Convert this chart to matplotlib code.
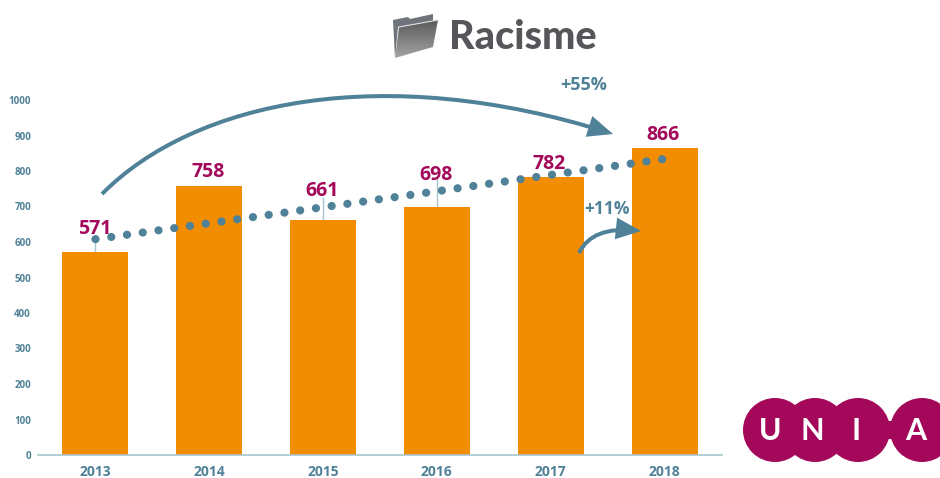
"""Racisme dossiers per year, bars with dotted trend and UNIA logo."""

import matplotlib
matplotlib.use("Agg")
import matplotlib.pyplot as plt
import numpy as np
from matplotlib.patches import Circle, FancyArrowPatch, PathPatch, Polygon, Rectangle
from matplotlib.path import Path

years = ["2013", "2014", "2015", "2016", "2017", "2018"]
cases = [571, 758, 661, 698, 782, 866]
trend = [608, 653, 698, 743, 789, 834]
yticks = [0, 100, 200, 300, 400, 500, 600, 700, 800, 900, 1000]

W, H = 940, 478
ORANGE = "#F28C00"
MAGENTA = "#A3085A"
STEEL = "#4F8198"
AXIS = "#A9C4D1"
TITLE = "#55565A"
FONT = "Open Sans"


def px_axes(fig, left, top, right, bottom):
    """Axes placed by pixel box (y measured from the top of the image)."""
    return fig.add_axes([left / W, 1 - bottom / H, (right - left) / W, (bottom - top) / H])


def curved_arrow(ax, verts, codes, lw):
    ax.add_patch(FancyArrowPatch(
        path=Path(verts, codes),
        arrowstyle="-|>,head_length=13,head_width=5.6", mutation_scale=1,
        color=STEEL, linewidth=lw, capstyle="butt", joinstyle="miter",
        shrinkA=0, shrinkB=0, zorder=6,
    ))


def draw_folder(ax):
    back = Polygon([(393, 20), (408, 17), (410, 19), (433, 14), (433, 21),
                    (398, 27), (395, 58)], closed=True, facecolor="#6E7479",
                   edgecolor="none", zorder=2)
    ax.add_patch(back)
    front = PathPatch(Path([(399, 27), (438, 20), (433, 47), (395, 58), (399, 27)]),
                      facecolor="none", edgecolor="none", zorder=3)
    ax.add_patch(front)
    grad = np.linspace(0, 1, 64).reshape(-1, 1)
    im = ax.imshow(grad, extent=(393, 440, 19, 59), cmap="gray_r", vmin=-1.2, vmax=2.2,
                   aspect="auto", zorder=3)
    im.set_clip_path(front)
    ax.plot([399, 438], [27, 20], color="#DDE1E4", lw=0.8, zorder=4)


def draw_logo(ax):
    for cx in [775, 815, 858, 922]:
        ax.add_patch(Circle((cx, 430), 32, facecolor=MAGENTA, edgecolor="none", zorder=2))
    ax.add_patch(Rectangle((880, 421), 20, 18, facecolor=MAGENTA, edgecolor="none", zorder=2))
    for cx, letter in zip([770, 812, 856, 916], "UNIA"):
        ax.text(cx, 431, letter, color="white", fontsize=22, fontweight="bold",
                family="Lato", ha="center", va="center", zorder=3)


def main():
    fig = plt.figure(figsize=(W / 100, H / 100), dpi=100, facecolor="white")

    ax = px_axes(fig, 38, 100, 722, 455)
    x = np.arange(len(years))
    ax.bar(x, cases, width=0.58, color=ORANGE, zorder=2)
    ax.plot(x, trend, linestyle=(0, (0.01, 1.93)), dash_capstyle="round", linewidth=5.9,
            color=STEEL, zorder=4)
    ax.set_xlim(-0.505, 5.505)
    ax.set_ylim(0, 1000)
    ax.set_xticks(x, years)
    ax.set_yticks(yticks)
    ax.tick_params(length=0)
    ax.tick_params(axis="x", pad=7.4, labelsize=10)
    ax.tick_params(axis="y", pad=5, labelsize=7)
    for lab in ax.get_xticklabels() + ax.get_yticklabels():
        lab.set_fontfamily(FONT)
        lab.set_fontweight("bold")
        lab.set_color(STEEL)
    for side in ["top", "right", "left"]:
        ax.spines[side].set_visible(False)
    ax.spines["bottom"].set_color(AXIS)
    ax.spines["bottom"].set_linewidth(1.2)
    ax.patch.set_alpha(0)

    label_y = [637, 796, 743, 790, 819, 900]
    for xi, val, ly in zip(x, cases, label_y):
        ax.text(xi - 0.01, ly, str(val), color=MAGENTA, fontsize=14, fontweight="bold",
                family=FONT, ha="center", va="center", zorder=5)
    # thin leaders from the labels down to the bars
    for i, top in [(0, 605), (2, 725), (3, 780)]:
        ax.plot([i, i], [cases[i], top], color=AXIS, lw=1, zorder=1)

    over = fig.add_axes([0, 0, 1, 1])
    over.set_xlim(0, W)
    over.set_ylim(H, 0)
    over.axis("off")
    over.patch.set_alpha(0)

    curved_arrow(over, [(102, 194), (195, 100), (385, 62), (613, 134)],
                 [Path.MOVETO, Path.CURVE4, Path.CURVE4, Path.CURVE4], 2.9)
    curved_arrow(over, [(579, 253), (592, 226), (641, 231)],
                 [Path.MOVETO, Path.CURVE3, Path.CURVE3], 2.9)
    over.text(584, 85, "+55%", color=STEEL, fontsize=13, fontweight="bold",
              family=FONT, ha="center", va="center")
    over.text(607, 209, "+11%", color=STEEL, fontsize=12.5, fontweight="bold",
              family=FONT, ha="center", va="center", zorder=7)

    over.text(449, 37.5, "Racisme", color=TITLE, fontsize=28.5, fontweight="black",
              family="Lato", ha="left", va="center")
    draw_folder(over)
    draw_logo(over)
    over.set_xlim(0, W)
    over.set_ylim(H, 0)

    fig.savefig("out.png", dpi=100, facecolor="white")


if __name__ == "__main__":
    main()
